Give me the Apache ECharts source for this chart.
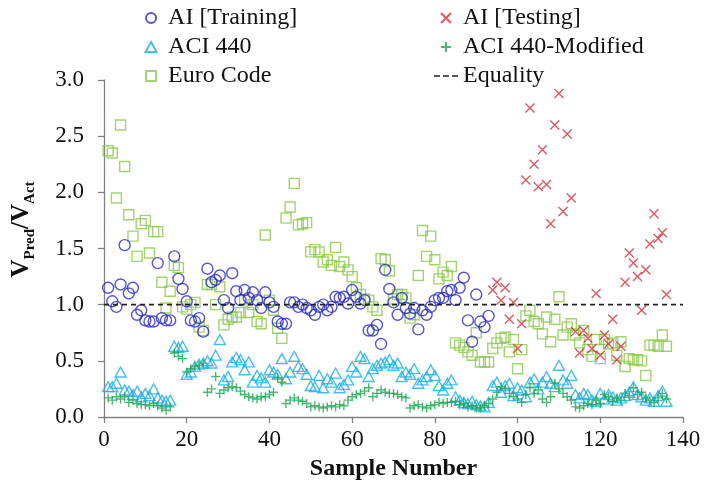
<!DOCTYPE html>
<html>
<head>
<meta charset="utf-8">
<script src="https://cdn.jsdelivr.net/npm/echarts@6/dist/echarts.min.js"></script>
<style>
  html, body { margin: 0; padding: 0; background: #fff; }
  #chart { width: 704px; height: 488px; }
</style>
</head>
<body>
<div id="chart"></div>
<script>
// Ratio of predicted to actual shear capacity, per sample number (1..136)
const euroCode = [
  2.37, 2.35, 1.95, 2.60, 2.23, 1.80, 1.61, 1.43, 1.72, 1.75,
  1.46, 1.65, 1.65, 1.20, 0.97, 1.12, 1.35, 1.33, 0.98, 0.96,
  1.00, 1.02, 0.80, 0.77, 1.18, 1.18, 1.00, 1.16, 0.82, 0.87,
  0.89, 0.89, 0.93, 1.04, 0.93, 1.00, 0.85, 0.83, 1.62, 1.04,
  0.95, 0.79, 0.70, 1.77, 1.87, 2.08, 1.71, 1.72, 1.73, 1.47,
  1.49, 1.47, 1.38, 1.40, 1.35, 1.51, 1.34, 1.38, 1.31, 1.25,
  1.15, 1.09, 1.05, 1.04, 0.98, 0.95, 1.41, 1.40, 1.30, 1.05,
  1.09, 1.09, 1.06, 0.88, 0.91, 1.26, 1.66, 1.43, 1.61, 1.40,
  1.23, 1.29, 1.26, 1.34, 0.66, 0.64, 0.62, 0.58, 0.55, 0.75,
  0.49, 0.49, 0.49, 0.61, 0.66, 0.70, 0.71, 0.58, 0.69, 0.43,
  0.60, 0.90, 0.95, 0.85, 0.83, 0.74, 0.89, 0.67, 0.87, 1.07,
  0.73, 0.80, 0.83, 0.73, 0.66, 0.77, 0.60, 0.54, 0.69, 0.52,
  0.69, 0.65, 0.66, 0.55, 0.67, 0.45, 0.52, 0.51, 0.51, 0.50,
  0.37, 0.64, 0.64, 0.63, 0.73, 0.63
];

const aci440 = [
  0.27, 0.27, 0.30, 0.40, 0.24, 0.23, 0.20, 0.23, 0.18, 0.21,
  0.19, 0.25, 0.17, 0.15, 0.14, 0.15, 0.63, 0.62, 0.63, 0.38,
  0.40, 0.45, 0.47, 0.48, 0.50, 0.48, 0.55, 0.69, 0.33, 0.36,
  0.49, 0.53, 0.51, 0.42, 0.49, 0.31, 0.37, 0.35, 0.31, 0.42,
  0.40, 0.38, 0.52, 0.34, 0.40, 0.54, 0.45, 0.43, 0.38, 0.28,
  0.27, 0.37, 0.26, 0.34, 0.31, 0.39, 0.26, 0.29, 0.33, 0.45,
  0.40, 0.54, 0.52, 0.36, 0.43, 0.46, 0.48, 0.49, 0.51, 0.46,
  0.48, 0.36, 0.40, 0.38, 0.43, 0.30, 0.33, 0.36, 0.42, 0.37,
  0.28, 0.24, 0.30, 0.33, 0.18, 0.15, 0.13, 0.12, 0.14, 0.11,
  0.10, 0.09, 0.13, 0.28, 0.31, 0.22, 0.28, 0.30, 0.19, 0.26,
  0.24, 0.18, 0.31, 0.34, 0.25, 0.31, 0.36, 0.30, 0.27, 0.46,
  0.33, 0.30, 0.37, 0.20, 0.17, 0.21, 0.20, 0.15, 0.14, 0.21,
  0.16, 0.20, 0.18, 0.15, 0.17, 0.19, 0.22, 0.27, 0.20, 0.18,
  0.15, 0.17, 0.14, 0.19, 0.23, 0.14
];

const aci440Modified = [
  0.17, 0.15, 0.18, 0.16, 0.18, 0.13, 0.15, 0.12, 0.11, 0.11,
  0.10, 0.12, 0.10, 0.08, 0.06, 0.09, 0.57, 0.54, 0.52, 0.40,
  0.43, 0.45, 0.46, 0.48, 0.22, 0.25, 0.36, 0.21, 0.24, 0.26,
  0.27, 0.26, 0.23, 0.20, 0.18, 0.17, 0.16, 0.18, 0.18, 0.20,
  0.22, 0.35, 0.31, 0.12, 0.15, 0.17, 0.15, 0.14, 0.12, 0.09,
  0.10, 0.09, 0.08, 0.09, 0.10, 0.09, 0.11, 0.10, 0.15, 0.18,
  0.20, 0.21, 0.23, 0.26, 0.18, 0.21, 0.24, 0.22, 0.21, 0.21,
  0.20, 0.18, 0.17, 0.08, 0.10, 0.11, 0.09, 0.08, 0.10, 0.11,
  0.13, 0.12, 0.13, 0.13, 0.14, 0.11, 0.12, 0.09, 0.10, 0.08,
  0.08, 0.10, 0.12, 0.16, 0.22, 0.27, 0.25, 0.21, 0.18, 0.16,
  0.13, 0.20, 0.26, 0.21, 0.24, 0.16, 0.13, 0.18, 0.30, 0.25,
  0.21, 0.18, 0.15, 0.09, 0.08, 0.10, 0.12, 0.11, 0.15, 0.12,
  0.20, 0.18, 0.14, 0.17, 0.15, 0.21, 0.19, 0.26, 0.20, 0.22,
  0.17, 0.15, 0.13, 0.17, 0.21, 0.16
];

// AI model: samples 1..93 used for training, 94..136 for testing
const aiTraining = [
  1.15, 1.03, 0.98, 1.18, 1.53, 1.10, 1.15, 0.91, 0.95, 0.86,
  0.85, 0.85, 1.37, 0.88, 0.86, 0.86, 1.43, 1.23, 1.14, 1.03,
  0.86, 0.85, 0.88, 0.76, 1.32, 1.20, 1.22, 1.26, 1.04, 0.97,
  1.28, 1.12, 1.04, 1.13, 1.06, 1.11, 1.04, 0.97, 1.11, 1.02,
  0.98, 0.85, 0.83, 0.83, 1.02, 1.02, 0.98, 1.00, 0.97, 0.95,
  0.91, 0.98, 1.00, 0.95, 0.98, 1.07, 1.06, 1.07, 1.01, 1.13,
  1.07, 1.01, 1.04, 0.77, 0.77, 0.82, 0.65, 1.31, 1.14, 1.02,
  0.91, 1.06, 0.97, 0.92, 0.97, 0.78, 0.95, 0.91, 0.98, 1.04,
  1.06, 1.06, 1.12, 1.13, 1.04, 1.15, 1.24, 0.86, 0.67, 1.09,
  0.85, 0.80, 0.90
];
const testStart = 94;
const aiTesting = [
  1.13, 1.20, 1.04, 1.15, 0.87, 1.02, 0.61, 0.83, 2.11, 2.75,
  2.25, 2.05, 2.38, 2.07, 1.72, 2.60, 2.88, 1.83, 2.52, 1.95,
  0.76, 0.57, 0.77, 0.70, 0.61, 1.10, 0.55, 0.73, 0.65, 0.87,
  0.51, 0.63, 1.20, 1.46, 1.37, 1.25, 0.95, 1.31, 1.54, 1.81,
  1.59, 1.64, 1.09
];

const xTicks = { min: 0, max: 140, step: 20 };
const yTicks = { min: 0, max: 3, step: 0.5 };

const toPoints = (vals, start) => vals.map((v, i) => [start + i, v]);

const serif = 'Liberation Serif';
// outline marker shapes (drawn with stroke only)
const squarePath = 'path://M0,0H10V10H0Z';
const trianglePath = 'path://M5,0L10,9H0Z';
const crossPath = 'path://M0,0L10,10M10,0L0,10';
const plusPath = 'path://M5,0L5,10M0,5L10,5';
const dashIcon = 'path://M0,0h6v1.6h-6z M9,0h6v1.6h-6z M18,0h6v1.6h-6z';

function markerSeries(name, vals, start, symbol, color, size) {
  return {
    name: name,
    type: 'scatter',
    data: toPoints(vals, start),
    symbol: symbol,
    symbolSize: size,
    symbolKeepAspect: true,
    itemStyle: { color: 'none', borderColor: color, borderWidth: 1.4 },
    emphasis: { disabled: true },
    z: 3
  };
}

const legendText = { fontFamily: serif, fontSize: 24, color: '#111', lineHeight: 24 };

const chart = echarts.init(document.getElementById('chart'), null, { renderer: 'canvas' });

chart.setOption({
  animation: false,
  backgroundColor: '#ffffff',
  textStyle: { fontFamily: serif },
  grid: { left: 104, right: 21, top: 80, bottom: 71, containLabel: false },
  legend: [
    {
      orient: 'vertical',
      left: 138,
      top: 1,
      itemWidth: 24,
      itemHeight: 10,
      itemGap: 5,
      symbolKeepAspect: true,
      textStyle: legendText,
      data: ['AI [Training]', 'ACI 440', 'Euro Code']
    },
    {
      orient: 'vertical',
      left: 429,
      top: 1,
      itemWidth: 24,
      itemHeight: 10,
      itemGap: 5,
      symbolKeepAspect: true,
      textStyle: legendText,
      data: ['AI [Testing]', 'ACI 440-Modified', { name: 'Equality', icon: dashIcon }]
    }
  ],
  xAxis: {
    type: 'value',
    min: xTicks.min,
    max: xTicks.max,
    interval: xTicks.step,
    name: 'Sample Number',
    nameLocation: 'middle',
    nameGap: 40,
    nameTextStyle: { fontFamily: serif, fontSize: 24, fontWeight: 'bold', color: '#111' },
    axisLine: { show: true, onZero: false, lineStyle: { color: '#808080', width: 1.3 } },
    axisTick: { show: true, inside: false, length: 6, lineStyle: { color: '#808080', width: 1.3 } },
    axisLabel: { fontFamily: serif, fontSize: 23, color: '#111', margin: 11 },
    splitLine: { show: false }
  },
  yAxis: {
    type: 'value',
    min: yTicks.min,
    max: yTicks.max,
    interval: yTicks.step,
    name: '{v|V}{s|Pred}{v|/V}{s|Act}',
    nameLocation: 'middle',
    nameGap: 66,
    nameRotate: 90,
    nameTextStyle: {
      color: '#111',
      padding: [0, 0, 0, 38],
      rich: {
        v: { fontFamily: serif, fontSize: 25, fontWeight: 'bold', lineHeight: 32, verticalAlign: 'middle', color: '#111' },
        s: { fontFamily: serif, fontSize: 15, fontWeight: 'bold', lineHeight: 15, verticalAlign: 'bottom', color: '#111' }
      }
    },
    axisLine: { show: true, lineStyle: { color: '#808080', width: 1.3 } },
    axisTick: { show: true, inside: false, length: 6, lineStyle: { color: '#808080', width: 1.3 } },
    axisLabel: {
      fontFamily: serif, fontSize: 23, color: '#111', margin: 20,
      formatter: v => v.toFixed(1)
    },
    splitLine: { show: false }
  },
  series: [
    markerSeries('Euro Code', euroCode, 1, squarePath, '#8cc84b', 10),
    markerSeries('ACI 440', aci440, 1, trianglePath, '#19aee6', 11),
    markerSeries('ACI 440-Modified', aci440Modified, 1, plusPath, '#1ea850', 9),
    markerSeries('AI [Training]', aiTraining, 1, 'circle', '#2a2ac8', 11),
    markerSeries('AI [Testing]', aiTesting, testStart, crossPath, '#d2303c', 9),
    {
      name: 'Equality',
      type: 'line',
      data: [[xTicks.min, 1], [xTicks.max, 1]],
      symbol: 'none',
      lineStyle: { color: '#222', width: 1.6, type: [5, 4] },
      itemStyle: { color: '#222' },
      emphasis: { disabled: true },
      z: 4
    }
  ]
});
</script>
</body>
</html>
